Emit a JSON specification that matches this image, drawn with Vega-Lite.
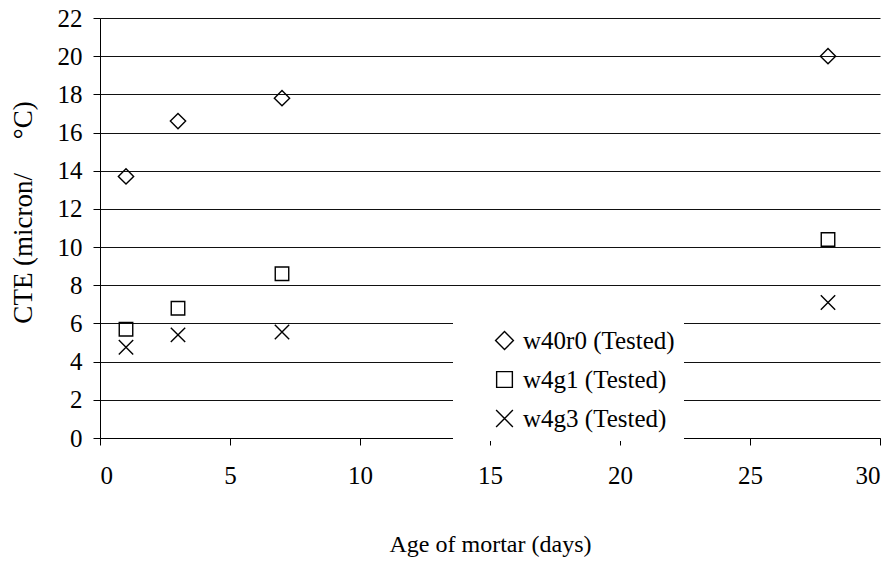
{
  "$schema": "https://vega.github.io/schema/vega-lite/v6.json",
  "width": 780,
  "height": 420,
  "autosize": {"type": "none"},
  "padding": {"left": 100, "top": 18, "right": 16, "bottom": 123},
  "background": "white",
  "config": {
    "font": "Liberation Serif, Times New Roman, serif",
    "view": {"stroke": null},
    "axis": {
      "labelFont": "Liberation Serif, Times New Roman, serif",
      "titleFont": "Liberation Serif, Times New Roman, serif",
      "labelFontSize": 25,
      "titleFontSize": 24,
      "labelColor": "black",
      "titleColor": "black",
      "titleFontWeight": "normal",
      "domainColor": "black",
      "tickColor": "black",
      "gridColor": "#111",
      "gridOpacity": 1
    }
  },
  "data": {
    "values": [
      {"age": 1, "cte": 13.7, "series": "w40r0 (Tested)"},
      {"age": 3, "cte": 16.6, "series": "w40r0 (Tested)"},
      {"age": 7, "cte": 17.8, "series": "w40r0 (Tested)"},
      {"age": 28, "cte": 20.0, "series": "w40r0 (Tested)"},
      {"age": 1, "cte": 5.7, "series": "w4g1 (Tested)"},
      {"age": 3, "cte": 6.8, "series": "w4g1 (Tested)"},
      {"age": 7, "cte": 8.6, "series": "w4g1 (Tested)"},
      {"age": 28, "cte": 10.4, "series": "w4g1 (Tested)"},
      {"age": 1, "cte": 4.75, "series": "w4g3 (Tested)"},
      {"age": 3, "cte": 5.4, "series": "w4g3 (Tested)"},
      {"age": 7, "cte": 5.55, "series": "w4g3 (Tested)"},
      {"age": 28, "cte": 7.1, "series": "w4g3 (Tested)"}
    ]
  },
  "mark": {"type": "point", "filled": false, "stroke": "black", "strokeWidth": 1.4, "size": 324, "opacity": 1},
  "encoding": {
    "x": {
      "field": "age",
      "type": "quantitative",
      "scale": {"domain": [0, 30], "nice": false, "zero": true},
      "axis": {
        "title": "Age of mortar (days)",
        "values": [0, 5, 10, 15, 20, 25, 30],
        "grid": false,
        "tickSize": 7,
        "labelPadding": 18,
        "titleX": 390,
        "titleY": 106,
        "titleAlign": "center",
        "titleBaseline": "middle"
      }
    },
    "y": {
      "field": "cte",
      "type": "quantitative",
      "scale": {"domain": [0, 22], "nice": false},
      "axis": {
        "title": "CTE (micron/\u00a0\u00a0\u00a0\u00a0\u00a0°C)",
        "titleFontSize": 27,
        "values": [0, 2, 4, 6, 8, 10, 12, 14, 16, 18, 20, 22],
        "grid": true,
        "tickSize": 7,
        "labelPadding": 11,
        "titleAngle": -90,
        "titleX": -77,
        "titleY": 194,
        "titleAlign": "center",
        "titleBaseline": "middle"
      }
    },
    "shape": {
      "field": "series",
      "type": "nominal",
      "scale": {
        "domain": ["w40r0 (Tested)", "w4g1 (Tested)", "w4g3 (Tested)"],
        "range": [
          "M0,-0.85L0.85,0L0,0.85L-0.85,0Z",
          "M-0.75,-0.75H0.75V0.75H-0.75Z",
          "M-0.8,-0.8L0.8,0.8M-0.8,0.8L0.8,-0.8"
        ]
      },
      "legend": {
        "title": null,
        "orient": "none",
        "legendX": 353,
        "legendY": 301,
        "fillColor": "white",
        "padding": 9,
        "symbolOffset": 30,
        "symbolSize": 440,
        "symbolStrokeColor": "black",
        "symbolStrokeWidth": 1.4,
        "symbolFillColor": "transparent",
        "labelFont": "Liberation Serif, Times New Roman, serif",
        "labelFontSize": 25,
        "labelColor": "black",
        "labelOffset": 6,
        "rowPadding": 13,
        "labelLimit": 400
      }
    }
  }
}
